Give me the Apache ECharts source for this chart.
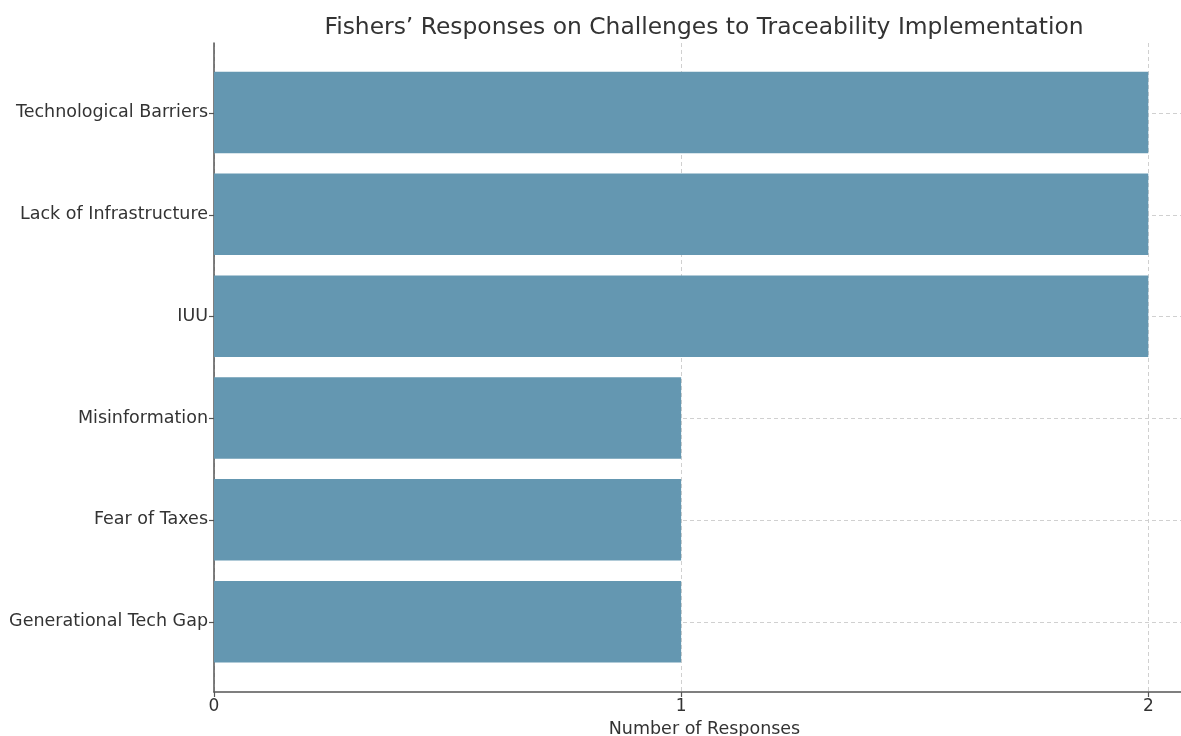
<!DOCTYPE html>
<html>
<head>
<meta charset="utf-8">
<script src="https://cdn.jsdelivr.net/npm/echarts@6/dist/echarts.min.js"></script>
<style>html,body{margin:0;padding:0;background:#fff;}#c{width:1181px;height:736px;}</style>
</head>
<body>
<div id="c"></div>
<script>
const categories = ['Technological Barriers', 'Lack of Infrastructure', 'IUU', 'Misinformation', 'Fear of Taxes', 'Generational Tech Gap'];
const responses = [2, 2, 2, 1, 1, 1];
const xTicks = [0, 1, 2];
const yTickIdx = [0, 1, 2, 3, 4, 5];
const title = 'Fishers’ Responses on Challenges to Traceability Implementation';
const xTitle = 'Number of Responses';

const FONT = 'DejaVu Sans';
const TXT = '#333333';
const AX = '#555555';
const XMAX = 2.07;
const chart = echarts.init(document.getElementById('c'), null, {renderer: 'canvas'});
chart.setOption({
  animation: false,
  backgroundColor: '#ffffff',
  title: {
    text: title, left: 699, textAlign: 'center', top: 11,
    textStyle: {fontFamily: FONT, fontSize: 23.4, fontWeight: 'normal', color: TXT}
  },
  grid: [
    {left: 214, right: 0, top: 43, bottom: 44, containLabel: false, outerBoundsMode: 'none'},
    {left: 214, right: 0, top: 61.6, bottom: 63.4, containLabel: false, outerBoundsMode: 'none'}
  ],
  xAxis: [
    {
      gridIndex: 0, type: 'value', min: 0, max: XMAX,
      name: xTitle, nameLocation: 'middle', nameGap: 28,
      nameTextStyle: {fontFamily: FONT, fontSize: 17.5, color: TXT, padding: [0, 0, 0, 14]},
      axisLine: {show: true, onZero: false, lineStyle: {color: AX, width: 1.5}},
      axisTick: {show: true, length: 5, customValues: xTicks, lineStyle: {color: AX, width: 1.2}},
      axisLabel: {customValues: xTicks, margin: 6, fontFamily: FONT, fontSize: 17, color: TXT},
      splitLine: {show: true, lineStyle: {color: '#d0d0d0', type: [4, 3], width: 1}}
    },
    {
      gridIndex: 1, type: 'value', min: 0, max: XMAX, show: false,
      splitLine: {show: false}
    }
  ],
  yAxis: [
    {
      gridIndex: 0, type: 'value', inverse: true, min: -0.69, max: 5.69,
      axisLine: {show: true, onZero: false, lineStyle: {color: AX, width: 1.5}},
      axisTick: {show: true, length: 5, customValues: yTickIdx, lineStyle: {color: AX, width: 1.2}},
      axisLabel: {show: false, customValues: yTickIdx},
      splitLine: {show: true, lineStyle: {color: '#d0d0d0', type: [4, 3], width: 1}}
    },
    {
      gridIndex: 1, type: 'category', inverse: true, data: categories,
      axisLine: {show: false}, axisTick: {show: false},
      splitLine: {show: false},
      axisLabel: {margin: 6, fontFamily: FONT, fontSize: 17.5, color: TXT, padding: [4, 0, 0, 0]}
    }
  ],
  series: [{
    type: 'bar', xAxisIndex: 1, yAxisIndex: 1,
    data: responses, barWidth: '80%',
    itemStyle: {color: '#6497b1'}, z: 3
  }]
});
</script>
</body>
</html>
